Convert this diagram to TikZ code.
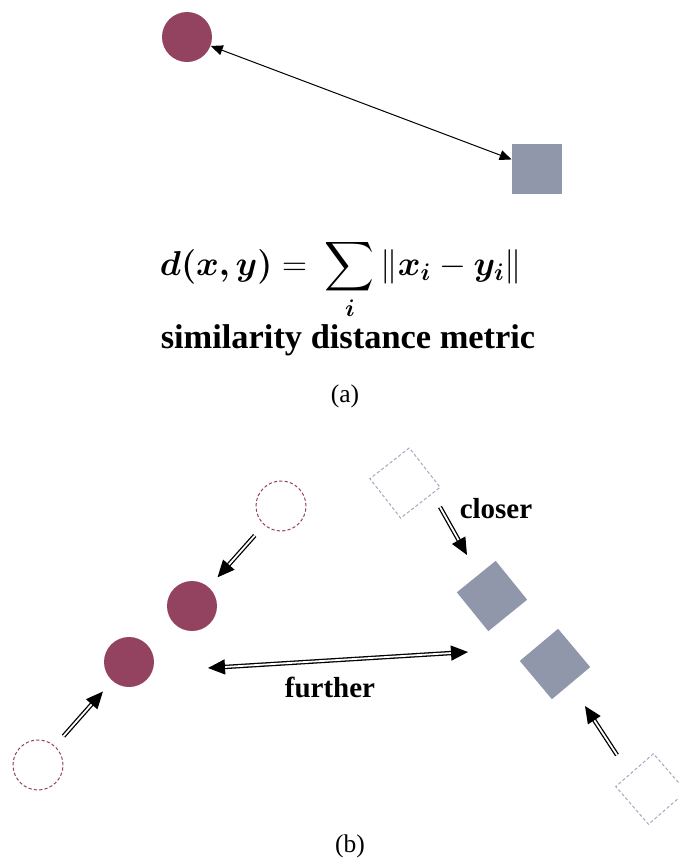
\documentclass[tikz,border=0pt]{standalone}
\usepackage{amsmath,bm}
\usepackage{fontspec}
\setmainfont{LiberationSerif}[
  Extension=.ttf,
  UprightFont=*-Regular,
  BoldFont=*-Bold,
  ItalicFont=*-Italic,
  BoldItalicFont=*-BoldItalic]
\usetikzlibrary{arrows.meta}
\definecolor{ptmaroon}{HTML}{93425F}
\definecolor{ptslate}{HTML}{9197AA}
\definecolor{ptslatelight}{HTML}{A4A9BE}

\begin{document}
\begin{tikzpicture}[
  x=0.5pt, y=0.5pt,
  pt/.style={circle, fill=ptmaroon, minimum size=25pt, inner sep=0pt},
  ptold/.style={circle, draw=ptmaroon, line width=0.5pt,
                dash pattern=on 1.6pt off 1.1pt,
                minimum size=25pt, inner sep=0pt},
  sq/.style={rectangle, fill=ptslate, minimum size=25pt, inner sep=0pt},
  sqold/.style={rectangle, draw=ptslatelight, line width=0.5pt,
                dash pattern=on 1.6pt off 1.1pt,
                minimum size=25pt, inner sep=0pt},
  thinarr/.style={{Triangle[length=6pt,width=5pt]}-{Triangle[length=6pt,width=5pt]},
                  line width=0.5pt},
  dblarr/.style={-{Triangle[length=8.5pt,width=7.5pt]}, double,
                 double distance=0.9pt, line width=0.65pt},
  lbl/.style={font=\fontsize{14.5}{17}\selectfont\bfseries},
  captext/.style={font=\fontsize{12.75}{15}\selectfont},
]
  \useasboundingbox (0,0) rectangle (679,-859);

  %% (a) one point and one square, joined by the metric
  \node[pt] (pA) at (187,-37) {};
  \node[sq] (qA) at (537,-169) {};
  \draw[thinarr] (pA) -- (qA);

  \node[anchor=base, font=\fontsize{16.6}{20}\selectfont] (dist) at (341,-275)
    {$\displaystyle \bm{d(x,y)} = \ \sum_{\bm{i}} \|\bm{x_i} - \bm{y_i}\|$};
  \node[anchor=base, font=\fontsize{17.2}{20}\selectfont\bfseries] (metric) at (348,-348)
    {similarity distance metric};
  \node[anchor=base, captext] (capA) at (345,-402) {(a)};

  %% (b) points pulled together, squares pulled together
  \node[ptold] (pOld1) at (281,-506) {};
  \node[pt]    (pNew1) at (192,-606) {};
  \node[pt]    (pNew2) at (129,-662) {};
  \node[ptold] (pOld2) at (38,-765) {};

  \node[sqold, rotate=38] (qOld1) at (405,-483) {};
  \node[sq, rotate=39]    (qNew1) at (492,-596) {};
  \node[sq, rotate=40]    (qNew2) at (555,-664) {};
  \node[sqold, rotate=41] (qOld2) at (651,-789) {};

  \draw[dblarr, shorten <=7pt, shorten >=6.5pt] (pOld1) -- (pNew1);
  \draw[dblarr, shorten <=6.5pt, shorten >=7pt] (pOld2) -- (pNew2);
  \draw[dblarr] ([shift={(35,-24)}]qOld1.center) -- ([shift={(-25,41)}]qNew1.center);
  \draw[dblarr] ([shift={(-34,34)}]qOld2.center) -- ([shift={(30,-42)}]qNew2.center);

  %% push apart the two classes
  \draw[dblarr, {Triangle[length=8.5pt,width=7.5pt]}-{Triangle[length=8.5pt,width=7.5pt]}]
    ([shift={(79,-6)}]pNew2.center) -- ([shift={(-24,-56)}]qNew1.center);

  \node[anchor=base, lbl] (closer) at (496,-518) {closer};
  \node[anchor=base, lbl] (further) at (330,-697) {further};
  \node[anchor=base, captext] (capB) at (350,-852) {(b)};
\end{tikzpicture}
\end{document}
